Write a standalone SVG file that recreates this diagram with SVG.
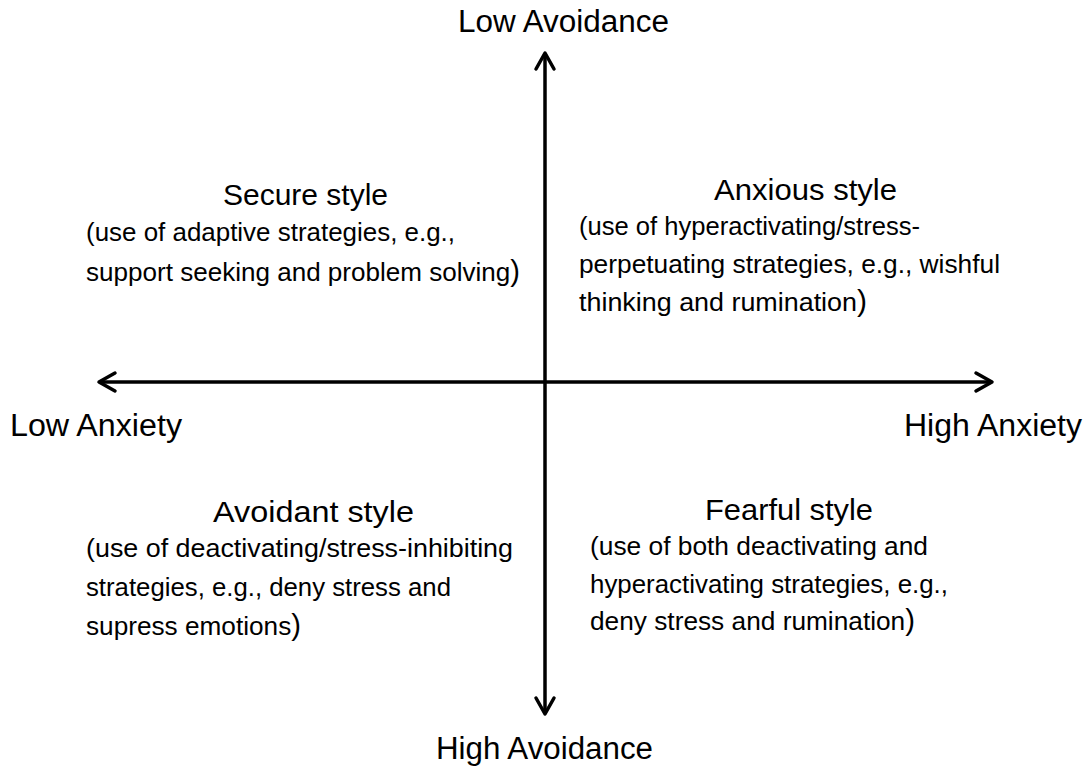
<svg xmlns="http://www.w3.org/2000/svg" width="1088" height="767" viewBox="0 0 1088 767">
<style>
text{font-family:"Liberation Sans",Arial,sans-serif;fill:#000}
.axis{font-size:31px}
.title{font-size:30px}
.body{font-size:26px}
.big{font-size:29px}
.ax{stroke:#000;stroke-width:3.5;fill:none}
</style>
<defs>
<marker id="head" markerUnits="userSpaceOnUse" viewBox="-20 -12 24 24" refX="0" refY="0" markerWidth="24" markerHeight="24" orient="auto-start-reverse">
<path d="M-16,-9 L0,0 L-16,9" fill="none" stroke="#000" stroke-width="3.5" stroke-linejoin="round" stroke-linecap="round"/>
</marker>
</defs>
<rect width="1088" height="767" fill="#fff"/>
<g id="connectors">
<line class="ax" x1="545" y1="53" x2="545" y2="714" marker-start="url(#head)" marker-end="url(#head)"/>
<line class="ax" x1="99" y1="382" x2="992" y2="382" marker-start="url(#head)" marker-end="url(#head)"/>
</g>
<g id="low-avoidance"><text class="axis" x="458" y="32" textLength="211" lengthAdjust="spacingAndGlyphs">Low Avoidance</text></g>
<g id="high-avoidance"><text class="axis" x="436" y="759" textLength="217" lengthAdjust="spacingAndGlyphs">High Avoidance</text></g>
<g id="low-anxiety"><text class="axis" x="10" y="436" textLength="172" lengthAdjust="spacingAndGlyphs">Low Anxiety</text></g>
<g id="high-anxiety"><text class="axis" x="904" y="436" textLength="178" lengthAdjust="spacingAndGlyphs">High Anxiety</text></g>
<g id="secure">
<text class="title" x="223" y="205" textLength="165" lengthAdjust="spacingAndGlyphs">Secure style</text>
<text class="body" x="86" y="241" textLength="369" lengthAdjust="spacingAndGlyphs">(use of adaptive strategies, e.g.,</text>
<text class="body" x="86" y="281" textLength="434" lengthAdjust="spacingAndGlyphs">support seeking and problem solving<tspan class="big">)</tspan></text>
</g>
<g id="anxious">
<text class="title" x="714" y="200" textLength="183" lengthAdjust="spacingAndGlyphs">Anxious style</text>
<text class="body" x="579" y="235" textLength="341" lengthAdjust="spacingAndGlyphs">(use of hyperactivating/stress-</text>
<text class="body" x="579" y="273" textLength="421" lengthAdjust="spacingAndGlyphs">perpetuating strategies, e.g., wishful</text>
<text class="body" x="579" y="311" textLength="288" lengthAdjust="spacingAndGlyphs">thinking and rumination<tspan class="big">)</tspan></text>
</g>
<g id="avoidant">
<text class="title" x="213" y="522" textLength="201" lengthAdjust="spacingAndGlyphs">Avoidant style</text>
<text class="body" x="86" y="557" textLength="427" lengthAdjust="spacingAndGlyphs">(use of deactivating/stress-inhibiting</text>
<text class="body" x="86" y="596" textLength="365" lengthAdjust="spacingAndGlyphs">strategies, e.g., deny stress and</text>
<text class="body" x="86" y="635" textLength="215" lengthAdjust="spacingAndGlyphs">supress emotions<tspan class="big">)</tspan></text>
</g>
<g id="fearful">
<text class="title" x="705" y="520" textLength="168" lengthAdjust="spacingAndGlyphs">Fearful style</text>
<text class="body" x="590" y="555" textLength="338" lengthAdjust="spacingAndGlyphs">(use of both deactivating and</text>
<text class="body" x="590" y="593" textLength="358" lengthAdjust="spacingAndGlyphs">hyperactivating strategies, e.g.,</text>
<text class="body" x="590" y="630" textLength="325" lengthAdjust="spacingAndGlyphs">deny stress and rumination<tspan class="big">)</tspan></text>
</g>
</svg>
